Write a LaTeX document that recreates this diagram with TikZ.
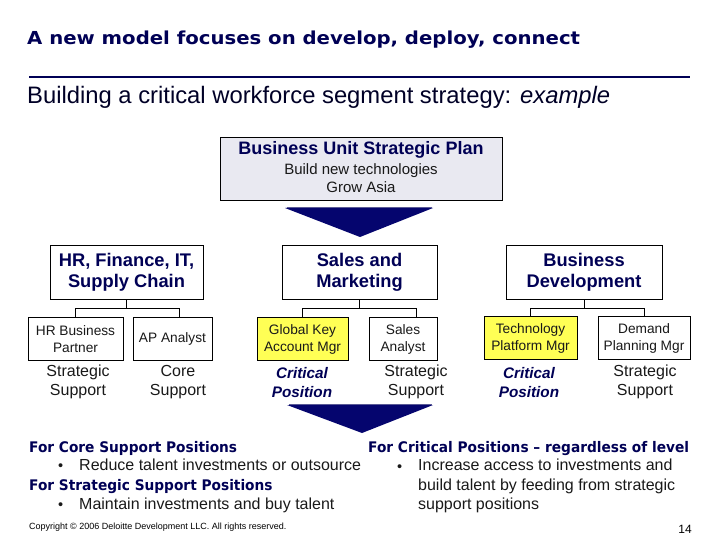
\documentclass[tikz,border=0pt]{standalone}
\usepackage{fontspec}
\setmainfont{Liberation Sans}
\newfontfamily\dvwide{DejaVu Sans}[FakeStretch=1.1]
\newfontfamily\dvnarrow{DejaVu Sans}[FakeStretch=0.94]
\definecolor{navy}{RGB}{0,0,85}
\definecolor{arrowblue}{RGB}{5,5,110}
\definecolor{arrowtop}{RGB}{90,90,150}
\definecolor{boxfill}{RGB}{233,233,241}
\definecolor{yel}{RGB}{255,255,85}
\definecolor{txt}{RGB}{25,25,25}
\newcommand{\fsz}[2]{\fontsize{#1}{#2}\selectfont}
\begin{document}
\begin{tikzpicture}[x=1pt,y=-1pt,
  box/.style={draw=black, line width=0.9pt, fill=white, inner sep=0pt, align=center, text=txt},
  headbox/.style={box, text=navy, font=\bfseries\fsz{18.3}{21}},
  smallbox/.style={box, minimum height=43, font=\fsz{13.7}{17}},
  critbox/.style={smallbox, fill=yel},
  conn/.style={draw=black, line width=0.9pt},
  role/.style={inner sep=0pt, align=center, text=txt, font=\fsz{16}{18.5}},
  crit/.style={inner sep=0pt, align=center, text=navy, font=\bfseries\itshape\fsz{15.3}{19}},
  heading/.style={anchor=base west, inner sep=0pt, text=navy, font=\dvnarrow\bfseries\fsz{14.6}{16}},
  body/.style={anchor=base west, inner sep=0pt, text=txt, font=\fsz{16}{19.5}},
  dot/.style={anchor=base west, inner sep=0pt, text=txt, font=\fsz{14.5}{16}},
  bigarrow/.style={fill=arrowblue},
  arrowedge/.style={draw=arrowtop, line width=1.2pt}
]
\useasboundingbox (0,0) rectangle (720,540);

% titles
\node[anchor=base west, inner sep=0pt, text=navy, font=\dvwide\bfseries\fsz{17.9}{20}] (title) at (27,44.5)
  {A new model focuses on develop, deploy, connect};
\coordinate (ruleL) at (29,77);
\coordinate (ruleR) at (690,77);
\draw[navy, line width=1.6pt] (ruleL) -- (ruleR);
\node[anchor=base west, inner sep=0pt, text=navy!45!black, font=\fsz{23.8}{26}] (subtitle) at (27,104)
  {Building a critical workforce segment strategy: \textit{example}};

% business unit plan
\node[box, fill=boxfill, minimum width=282, minimum height=63] (bu) at (361,168.5) {};
\node[anchor=base, inner sep=0pt, text=navy, font=\bfseries\fsz{18}{20}] (bu1) at (361,155) {Business Unit Strategic Plan};
\node[anchor=base, inner sep=0pt, text=txt, font=\fsz{15}{18}] (bu2) at (361,175) {Build new technologies};
\node[anchor=base, inner sep=0pt, text=txt, font=\fsz{15}{18}] (bu3) at (361,193) {Grow Asia};

% top arrow
\coordinate (a1l) at (285,208);
\coordinate (a1r) at (433,208);
\coordinate (a1t) at (360,237);
\fill[bigarrow] (a1l) -- (a1r) -- (a1t) -- cycle;
\draw[arrowedge] ([xshift=1.5,yshift=0.6]a1l) -- ([xshift=-1.5,yshift=0.6]a1r);

% heads
\node[headbox, minimum width=153, minimum height=54] (hr) at (126.5,272) {HR, Finance, IT,\\Supply Chain};
\node[headbox, minimum width=155, minimum height=54] (sm) at (359.5,272) {Sales and\\Marketing};
\node[headbox, minimum width=156, minimum height=54] (bd) at (584,272) {Business\\Development};

% positions
\node[smallbox, minimum width=95] (hrbp) at (75.5,339) {HR Business\\Partner};
\node[smallbox, minimum width=79] (ap) at (172.5,339) {AP Analyst};
\node[critbox, minimum width=91] (gk) at (302.5,339) {Global Key\\Account Mgr};
\node[smallbox, minimum width=68] (sa) at (403,339) {Sales\\Analyst};
\node[critbox, minimum width=93] (tp) at (530.5,338) {Technology\\Platform Mgr};
\node[smallbox, minimum width=92] (dp) at (644,338) {Demand\\Planning Mgr};

% connectors
\draw[conn] (hr.south) -- ++(0,8.5) -| (hrbp.north);
\draw[conn] (hr.south) ++(0,8.5) -| ([xshift=6.5]ap.north);
\draw[conn] (sm.south) -- ++(0,8.5) -| (gk.north);
\draw[conn] (sm.south) ++(0,8.5) -| ([xshift=13]sa.north);
\draw[conn] (bd.south) -- ++(0,8.5) -| (tp.north);
\draw[conn] (bd.south) ++(0,8.5) -| (dp.north);

% role labels
\node[role] (l1) at (78,382) {Strategic\\Support};
\node[role] (l2) at (178,382) {Core\\Support};
\node[crit] (l3) at (302,383) {Critical\\Position};
\node[role] (l4) at (416,382) {Strategic\\Support};
\node[crit] (l5) at (529,383) {Critical\\Position};
\node[role] (l6) at (645,382) {Strategic\\Support};

% bottom arrow
\coordinate (a2l) at (287,405);
\coordinate (a2r) at (433,405);
\coordinate (a2t) at (362,433);
\fill[bigarrow] (a2l) -- (a2r) -- (a2t) -- cycle;
\draw[arrowedge] ([xshift=1.5,yshift=0.6]a2l) -- ([xshift=-1.5,yshift=0.6]a2r);

% bottom text, left
\node[heading] (h1) at (29,452) {For Core Support Positions};
\node[dot] (b1d) at (58,470) {\textbullet};
\node[body] (b1) at (79,470) {Reduce talent investments or outsource};
\node[heading] (h2) at (29,490) {For Strategic Support Positions};
\node[dot] (b2d) at (58,509) {\textbullet};
\node[body] (b2) at (79,509) {Maintain investments and buy talent};
\node[anchor=base west, inner sep=0pt, text=black, font=\fsz{9}{10}] (copy) at (29,529)
  {Copyright \textcopyright{} 2006 Deloitte Development LLC. All rights reserved.};

% bottom text, right
\node[heading] (h3) at (368,452) {For Critical Positions – regardless of level};
\node[dot] (b3d) at (397,471) {\textbullet};
\node[body, align=left, anchor=north west] (b3) at (418,459.2)
  {Increase access to investments and\\build talent by feeding from strategic\\support positions};
\node[anchor=base, inner sep=0pt, text=black, font=\fsz{12}{14}] (pg) at (685,533) {14};
\end{tikzpicture}
\end{document}
